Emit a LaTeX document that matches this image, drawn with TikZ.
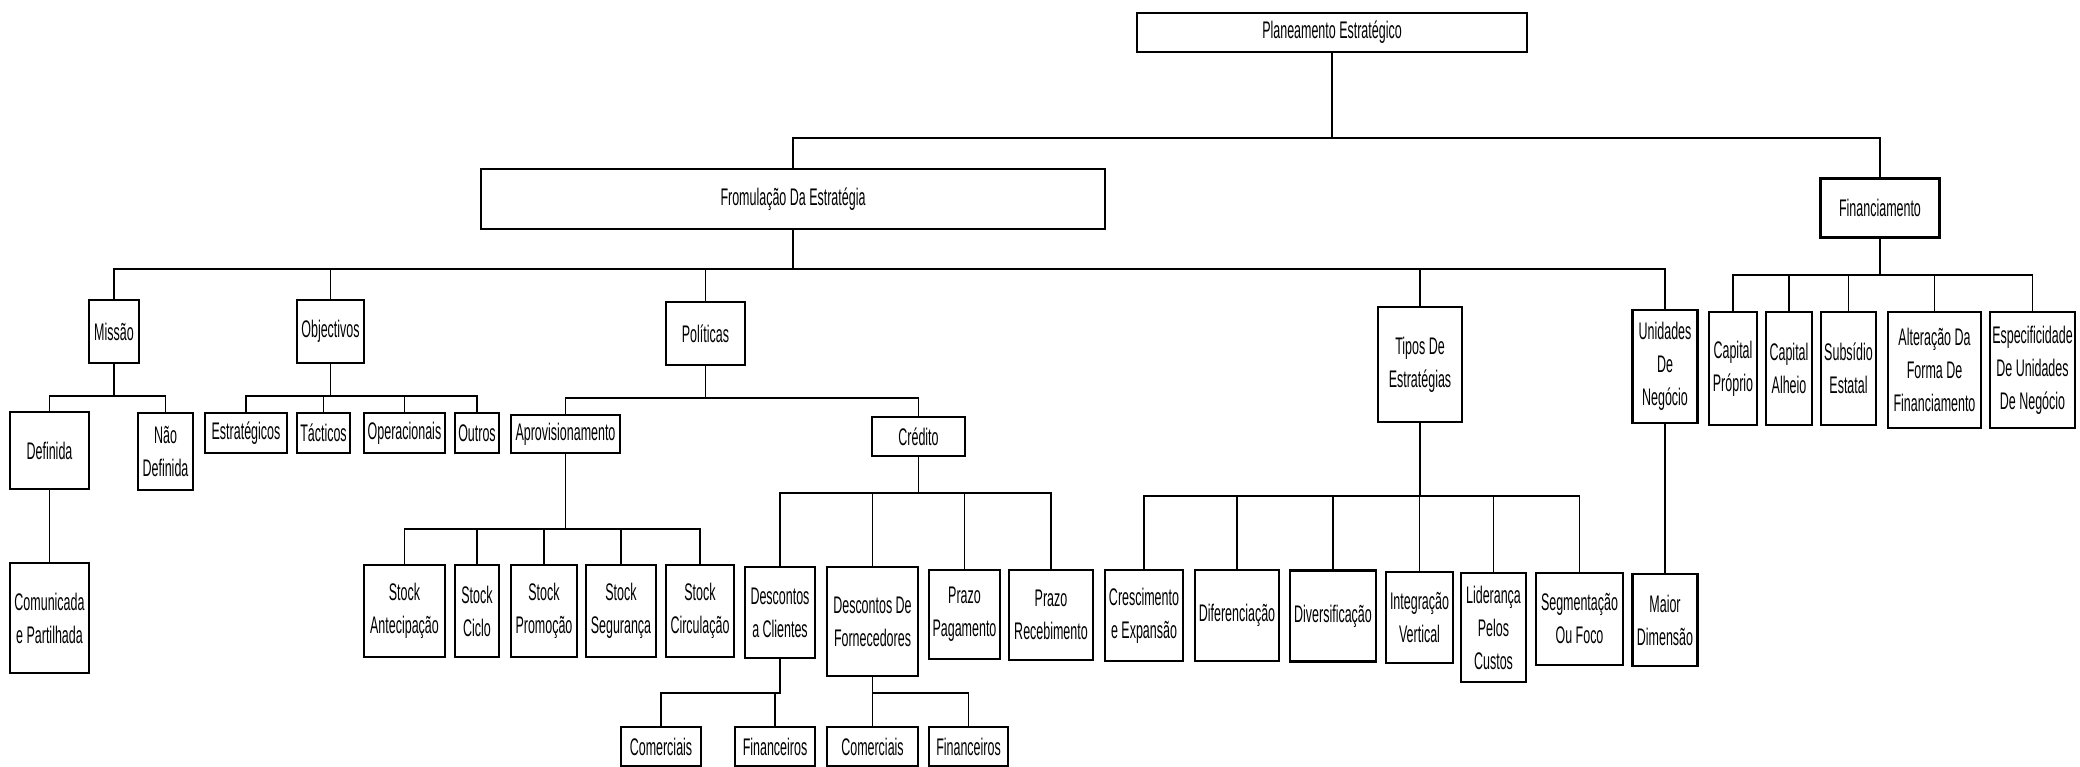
\documentclass[tikz,border=0pt]{standalone}
\usepackage{fontspec}
\setmainfont[FakeStretch=0.52]{Liberation Sans}
\usetikzlibrary{positioning}

\begin{document}
\begin{tikzpicture}[x=1pt,y=-1pt,
box/.style 2 args={draw,line width=2.2pt,align=center,inner sep=1pt,
  minimum width=#1pt,minimum height=#2pt,font=\fontsize{24}{33}\selectfont},
conn/.style={line width=1.8pt}]
\useasboundingbox (0,0) rectangle (2080,767);

\node[box={390}{39}] (plan) at (1332,32.5) {Planeamento Estratégico};
\node[box={624}{60}] (form) at (793,199) {Fromulação Da Estratégia};
\node[box={119}{59}] (fin) at (1880,208) {Financiamento};

\node[box={50}{63}] (mis) at (114,331.5) {Missão};
\node[box={67}{63}] (obj) at (330.5,331.5) {Objectivos};
\node[box={79}{63}] (pol) at (705.5,333.5) {Políticas};
\node[box={84}{115}] (tip) at (1420,364.5) {Tipos De\\Estratégias};
\node[box={65}{113}] (uni) at (1665,366.5) {Unidades\\De\\Negócio};

\node[box={48}{113}] (cp) at (1733,368.5) {Capital\\Próprio};
\node[box={46}{113}] (ca) at (1789,368.5) {Capital\\Alheio};
\node[box={55}{113}] (sub) at (1848.5,368.5) {Subsídio\\Estatal};
\node[box={93}{116}] (alt) at (1934.5,370) {Alteração Da\\Forma De\\Financiamento};
\node[box={85}{116}] (esp) at (2032.5,370) {Especificidade\\De Unidades\\De Negócio};

\node[box={79}{77}] (def) at (49.5,450.5) {Definida};
\node[box={55}{77}] (nde) at (165.5,451.5) {Não\\Definida};
\node[box={79}{110}] (com) at (49.5,618) {Comunicada\\e Partilhada};

\node[box={82}{40}] (est) at (246,433) {Estratégicos};
\node[box={53}{40}] (tac) at (323.5,433) {Tácticos};
\node[box={81}{40}] (ope) at (404.5,433) {Operacionais};
\node[box={44}{40}] (out) at (477,433) {Outros};

\node[box={109}{38}] (apr) at (565.5,434) {Aprovisionamento};
\node[box={93}{39}] (cre) at (918.5,436.5) {Crédito};

\node[box={81}{92}] (sa) at (404.5,611) {Stock\\Antecipação};
\node[box={44}{92}] (sc) at (477,611) {Stock\\Ciclo};
\node[box={66}{92}] (sp) at (544,611) {Stock\\Promoção};
\node[box={70}{92}] (ss) at (621,611) {Stock\\Segurança};
\node[box={68}{92}] (scir) at (700,611) {Stock\\Circulação};

\node[box={70}{91}] (dc) at (780,612.5) {Descontos\\a Clientes};
\node[box={91}{109}] (df) at (872.5,621.5) {Descontos De\\Fornecedores};
\node[box={71}{89}] (pp) at (964.5,614.5) {Prazo\\Pagamento};
\node[box={84}{90}] (pr) at (1051,615) {Prazo\\Recebimento};

\node[box={80}{39}] (dcc) at (661,746.5) {Comerciais};
\node[box={80}{39}] (dcf) at (775,746.5) {Financeiros};
\node[box={91}{39}] (dfc) at (872.5,746.5) {Comerciais};
\node[box={79}{39}] (dff) at (968.5,746.5) {Financeiros};

\node[box={78}{91}] (cr) at (1144,615.5) {Crescimento\\e Expansão};
\node[box={84}{91}] (dif) at (1237,615.5) {Diferenciação};
\node[box={86}{91}] (div) at (1333,616) {Diversificação};
\node[box={67}{91}] (int) at (1419.5,617.5) {Integração\\Vertical};
\node[box={65}{109}] (lid) at (1493.5,627.5) {Liderança\\Pelos\\Custos};
\node[box={87}{92}] (seg) at (1579.5,619) {Segmentação\\Ou Foco};
\node[box={65}{92}] (md) at (1665,620) {Maior\\Dimensão};

\foreach \p/\h/\cs in {plan/85/{form,fin}, form/39/{mis,obj,pol,tip,uni},
  fin/36.5/{cp,ca,sub,alt,esp}, mis/32/{def,nde}, obj/32/{est,tac,ope,out},
  pol/32/{apr,cre}, apr/75/{sa,sc,sp,ss,scir}, cre/36/{dc,df,pp,pr},
  dc/34/{dcc,dcf}, df/16/{dfc,dff}, tip/73/{cr,dif,div,int,lid,seg}}
  \foreach \c in \cs
    \draw[conn] (\p.south) -- ++(0,\h) -| (\c.north);
\draw[conn] (def) -- (com);
\draw[conn] (uni) -- (md);
\end{tikzpicture}
\end{document}
